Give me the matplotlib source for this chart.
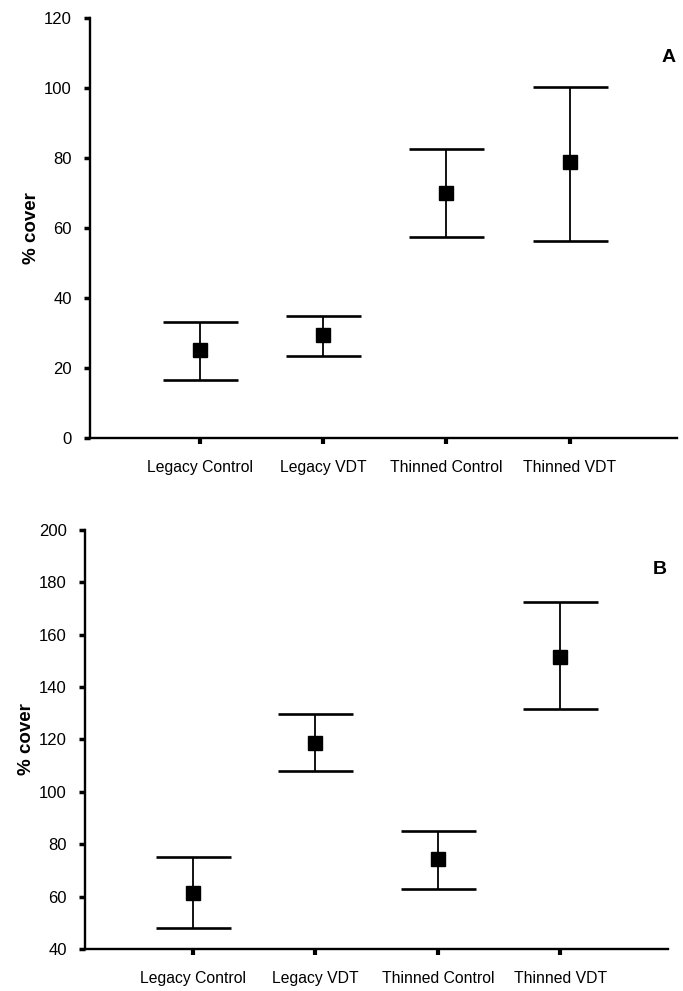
import numpy as np
import matplotlib
matplotlib.use("Agg")
import matplotlib.pyplot as plt

plt.rcParams['font.family'] = ['Liberation Sans', 'DejaVu Sans']

categories = ["Legacy Control", "Legacy VDT", "Thinned Control", "Thinned VDT"]

# panel A: mean, upper and lower ends of the bars
a_mean = [25.2, 29.4, 70.1, 78.8]
a_upper = [33.2, 35.0, 82.6, 100.4]
a_lower = [16.7, 23.5, 57.5, 56.4]

# panel B
b_mean = [61.5, 118.7, 74.2, 151.6]
b_upper = [75.1, 129.6, 85.2, 172.4]
b_lower = [47.9, 107.8, 63.0, 131.5]

fig = plt.figure(figsize=(6.83, 9.91), dpi=100)
axA = fig.add_axes([0.1318, 0.558, 0.8594, 0.4238])
axB = fig.add_axes([0.1245, 0.0424, 0.8536, 0.4228])


def panel(ax, mean, upper, lower, ylim, yticks, letter, xlim):
    x = np.arange(1, len(categories) + 1)
    mean = np.array(mean)
    yerr = [mean - np.array(lower), np.array(upper) - mean]
    ax.errorbar(x, mean, yerr=yerr, fmt='s', color='black', ms=9.5,
                elinewidth=1.3, capsize=27, capthick=1.9, clip_on=False)
    ax.set_xlim(*xlim)
    ax.set_ylim(*ylim)
    ax.set_yticks(yticks)
    ax.set_xticks(x)
    ax.set_xticklabels(categories)
    for s in ['top', 'right']:
        ax.spines[s].set_visible(False)
    ax.spines['left'].set_linewidth(1.7)
    ax.spines['bottom'].set_linewidth(1.7)
    ax.tick_params(axis='y', direction='out', length=4, width=2.5, labelsize=12, pad=9)
    ax.tick_params(axis='x', direction='out', length=4, width=3, labelsize=11.3, pad=12)
    ax.set_ylabel("% cover", fontsize=13.5, fontweight='bold', labelpad=3)
    ax.text(0.985, 0.905, letter, transform=ax.transAxes, fontsize=14,
            fontweight='bold', ha='center', va='center')


panel(axA, a_mean, a_upper, a_lower, (0, 120), np.arange(0, 121, 20), "A", (0.11, 4.87))
panel(axB, b_mean, b_upper, b_lower, (40, 200), np.arange(40, 201, 20), "B", (0.12, 4.88))

fig.savefig("out.png", dpi=100)
